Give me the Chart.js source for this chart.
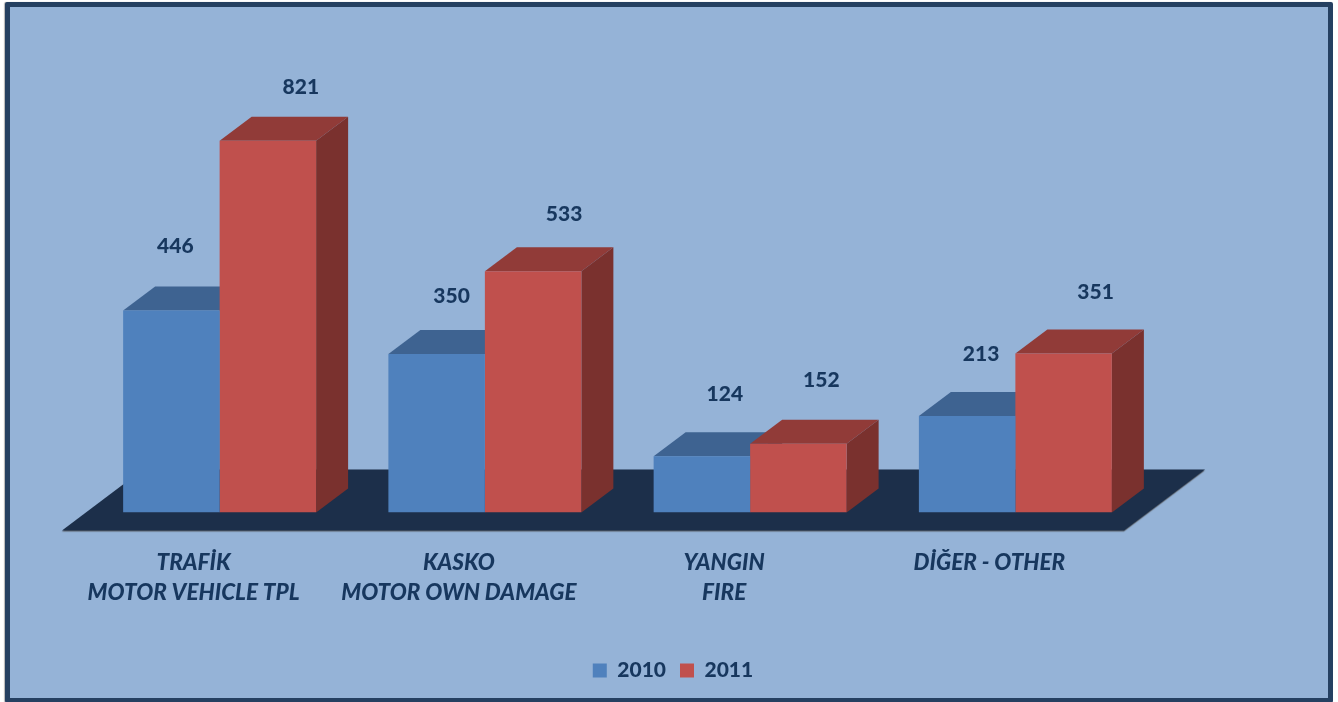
<!DOCTYPE html>
<html>
<head>
<meta charset="utf-8">
<title>2010 - 2011</title>
<script src="https://cdn.jsdelivr.net/npm/chart.js@4"></script>
<style>
    html, body { margin: 0; padding: 0; background: #fff; overflow: hidden; }
    #frame {
        position: absolute; left: 5px; top: 2px; width: 1318px; height: 691px;
        background: #95b3d7; border: 5px solid #254061; border-radius: 2px;
        box-shadow: -1px 0 1px #b5b5b5;
    }
    #chart { position: absolute; left: 0; top: 0; }
</style>
</head>
<body>
<div id="frame"></div>
<canvas id="chart" width="1338" height="702"></canvas>
<script>
const categories = [
    ['TRAFİK', 'MOTOR VEHICLE TPL'],
    ['KASKO', 'MOTOR OWN DAMAGE'],
    ['YANGIN', 'FIRE'],
    ['DİĞER - OTHER']
];
const values2010 = [446, 350, 124, 213];
const values2011 = [821, 533, 152, 351];
const yearLabels = ['2010', '2011'];

const textColor = '#17375e';
const depthX = 32;
const depthY = 24;

// label nudges from the top of each bar, [dataset][category]
const labelNudge = [
    [[4, -64], [15, -58], [23, -62], [14, -62]],
    [[33, -54], [31, -57], [23, -63], [32, -61]]
];

function face(ctx, points, color) {
    ctx.beginPath();
    points.forEach((p, i) => i ? ctx.lineTo(p[0], p[1]) : ctx.moveTo(p[0], p[1]));
    ctx.closePath();
    ctx.fillStyle = color;
    ctx.fill();
}

// floor and the top/side faces go under the bars Chart.js draws
const depthPlugin = {
    id: 'depth',
    beforeDatasetsDraw(chart) {
        const ctx = chart.ctx;
        const base = chart.scales.y.getPixelForValue(0);
        const left = chart.scales.x.left;
        const right = chart.scales.x.right;

        ctx.save();
        const floor = [
            [left - 25, base + 18], [left + 56, base - 43],
            [right + 57, base - 43], [right - 24, base + 18]
        ];
        ctx.shadowColor = 'rgba(70,70,70,0.8)';
        ctx.shadowBlur = 1;
        ctx.shadowOffsetY = 1;
        face(ctx, floor, '#1c2f4a');
        ctx.shadowColor = 'transparent';

        const topColors = ['#3e6391', '#913b38'];
        const sideColors = ['#335479', '#7a312e'];
        chart.data.datasets.forEach((ds, d) => {
            chart.getDatasetMeta(d).data.forEach(bar => {
                const l = bar.x - bar.width / 2;
                const r = bar.x + bar.width / 2;
                face(ctx, [[l, bar.y], [l + depthX, bar.y - depthY], [r + depthX, bar.y - depthY], [r, bar.y]], topColors[d]);
                face(ctx, [[r, bar.y], [r + depthX, bar.y - depthY], [r + depthX, bar.base - depthY], [r, bar.base]], sideColors[d]);
            });
        });
        ctx.restore();
    },
    afterDatasetsDraw(chart) {
        const ctx = chart.ctx;
        ctx.save();
        ctx.font = '900 21px Lato';
        ctx.fillStyle = textColor;
        ctx.textAlign = 'center';
        ctx.textBaseline = 'middle';
        chart.data.datasets.forEach((ds, d) => {
            chart.getDatasetMeta(d).data.forEach((bar, i) => {
                const nudge = labelNudge[d][i];
                ctx.fillText(String(ds.data[i]), bar.x + nudge[0], bar.y + nudge[1]);
            });
        });
        ctx.restore();
    }
};

new Chart(document.getElementById('chart'), {
    type: 'bar',
    plugins: [depthPlugin],
    data: {
        labels: categories,
        datasets: [
            { label: yearLabels[0], data: values2010, backgroundColor: '#4f81bd' },
            { label: yearLabels[1], data: values2011, backgroundColor: '#c0504d' }
        ]
    },
    options: {
        responsive: false,
        animation: false,
        layout: { padding: { left: 8, top: 105, bottom: 11 } },
        datasets: { bar: { barPercentage: 1, categoryPercentage: 0.7275, borderWidth: 0 } },
        scales: {
            x: {
                afterFit: s => { s.height = 133.5; },
                grid: { display: false },
                border: { display: false },
                ticks: {
                    autoSkip: false,
                    maxRotation: 0,
                    labelOffset: -26,
                    padding: 27,
                    color: textColor,
                    font: { family: 'Lato', size: 22.5, style: 'italic', weight: '900', lineHeight: 1.333 }
                }
            },
            y: {
                min: 0,
                max: 900,
                afterFit: s => { s.width = 79; },
                grid: { display: false },
                border: { display: false },
                ticks: { display: false }
            },
            yRight: {
                position: 'right',
                afterFit: s => { s.width = 190; },
                grid: { display: false },
                border: { display: false },
                ticks: { display: false }
            }
        },
        plugins: {
            tooltip: { enabled: false },
            legend: {
                position: 'bottom',
                labels: {
                    boxWidth: 14,
                    boxHeight: 14,
                    padding: 14,
                    color: textColor,
                    font: { family: 'Lato', size: 21, weight: '900' }
                }
            }
        }
    }
});
</script>
</body>
</html>
